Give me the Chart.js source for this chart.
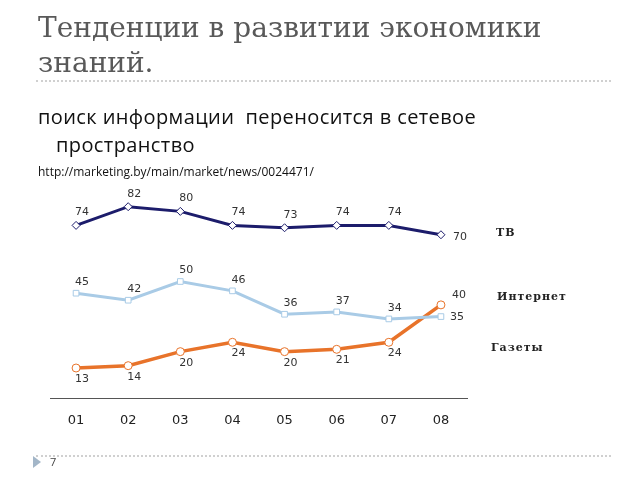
<!DOCTYPE html>
<html>
<head>
<meta charset="utf-8">
<script src="https://cdn.jsdelivr.net/npm/chart.js@4"></script>
<style>
  body { margin: 0; width: 640px; height: 480px; background: #fff; position: relative; overflow: hidden; }
  .title { position: absolute; left: 38px; top: 10px; font-family: "DejaVu Serif", serif; font-size: 28px; line-height: 35px; color: #595959; }
  .rule { position: absolute; left: 36px; width: 575px; border-top: 2px dotted #d0d0d0; }
  .sub { position: absolute; left: 38px; top: 103px; font-family: "Open Sans", sans-serif; font-size: 20px; letter-spacing: 0.4px; line-height: 28px; color: #111; }
  .sub .ind { padding-left: 18px; }
  .url { position: absolute; left: 38px; top: 163px; font-family: "Open Sans", sans-serif; font-size: 12px; color: #111; }
  .name { position: absolute; font-family: "DejaVu Serif", serif; font-weight: bold; font-size: 11px; letter-spacing: 1px; color: #222; }
  .tri { position: absolute; left: 33px; top: 456px; width: 0; height: 0; border-top: 6px solid transparent; border-bottom: 6px solid transparent; border-left: 8px solid #a3b6c8; }
  .num { position: absolute; left: 50px; top: 454px; font-family: "Open Sans", sans-serif; font-size: 11px; color: #444; }
  #wrap { position: absolute; left: 0; top: 0; width: 640px; height: 480px; }
</style>
</head>
<body>
<div id="wrap"><canvas id="chart"></canvas></div>
<div class="title">Тенденции в развитии экономики<br>знаний.</div>
<div class="rule" style="top: 80px"></div>
<div class="sub">поиск информации&nbsp; переносится в сетевое<br><span class="ind">пространство</span></div>
<div class="url">http://marketing.by/main/market/news/0024471/</div>
<div class="name" style="left: 496px; top: 226px">ТВ</div>
<div class="name" style="left: 497px; top: 290px">Интернет</div>
<div class="name" style="left: 491px; top: 341px">Газеты</div>
<div class="rule" style="top: 455px"></div>
<div class="tri"></div>
<div class="num">7</div>
<script>
const years = ['01', '02', '03', '04', '05', '06', '07', '08']
const tv = [74, 82, 80, 74, 73, 74, 74, 70]
const internet = [45, 42, 50, 46, 36, 37, 34, 35]
const papers = [13, 14, 20, 24, 20, 21, 24, 40]

// подписи значений у точек
const valueLabels = {
    id: 'valueLabels',
    afterDatasetsDraw(chart) {
        const ctx = chart.ctx
        ctx.save()
        ctx.font = '11px "DejaVu Sans", sans-serif'
        ctx.fillStyle = '#333'
        ctx.textAlign = 'center'
        ctx.textBaseline = 'middle'
        chart.data.datasets.forEach((ds, i) => {
            const meta = chart.getDatasetMeta(i)
            meta.data.forEach((pt, j) => {
                const last = j === meta.data.length - 1
                const dx = last ? ds.lastDx : 6
                const dy = last ? ds.lastDy : ds.labelDy
                ctx.fillText(ds.data[j], pt.x + dx, pt.y + dy)
            })
        })
        ctx.restore()
    }
}

new Chart(document.getElementById('chart'), {
    type: 'line',
    data: {
        labels: years,
        datasets: [{
            label: 'ТВ',
            data: tv,
            borderColor: '#1c1c6b',
            borderWidth: 3,
            pointStyle: 'rectRot',
            pointRadius: 4,
            pointBackgroundColor: '#fff',
            pointBorderColor: '#1c1c6b',
            pointBorderWidth: 1,
            labelDy: -13, lastDx: 19, lastDy: 2
        }, {
            label: 'Интернет',
            data: internet,
            borderColor: '#a9cbe6',
            borderWidth: 3,
            pointStyle: 'rect',
            pointRadius: 4,
            pointBackgroundColor: '#fff',
            pointBorderColor: '#a9cbe6',
            pointBorderWidth: 1,
            labelDy: -11, lastDx: 16, lastDy: 1
        }, {
            label: 'Газеты',
            data: papers,
            borderColor: '#e8732a',
            borderWidth: 3.5,
            pointStyle: 'circle',
            pointRadius: 4,
            pointBackgroundColor: '#fff',
            pointBorderColor: '#e8732a',
            pointBorderWidth: 1,
            labelDy: 11, lastDx: 18, lastDy: -10
        }]
    },
    options: {
        responsive: true,
        maintainAspectRatio: false,
        animation: false,
        layout: { padding: { left: 50, right: 173, top: 188, bottom: 38 } },
        plugins: { legend: { display: false }, tooltip: { enabled: false } },
        scales: {
            x: {
                offset: true,
                grid: { display: false, drawTicks: false },
                border: { display: true, color: '#555', width: 1 },
                ticks: { color: '#222', padding: 14, font: { family: '"DejaVu Sans", sans-serif', size: 13 } }
            },
            y: {
                display: false,
                min: 0,
                max: 90
            }
        }
    },
    plugins: [valueLabels]
})
</script>
</body>
</html>
